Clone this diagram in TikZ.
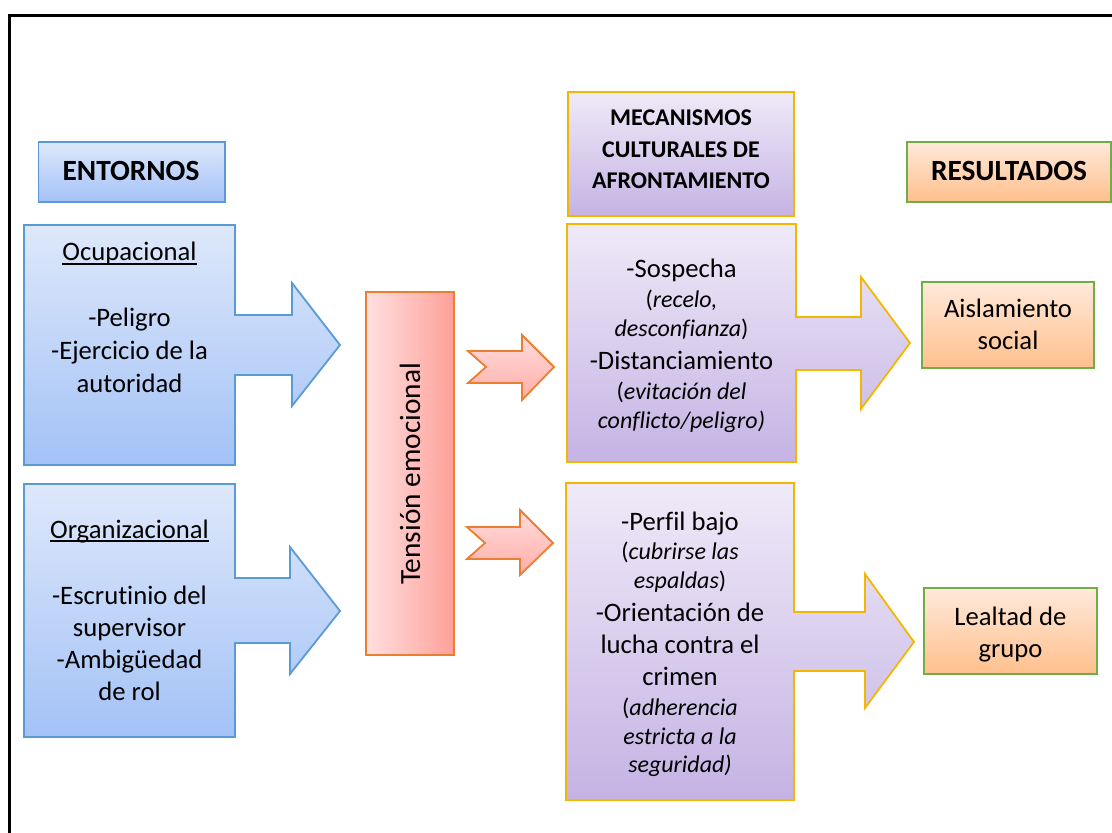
\documentclass[tikz,border=0pt]{standalone}
\usepackage{fontspec}
\setmainfont{Carlito}[Ligatures=NoCommon]
\newcommand\ulword[1]{\setbox0\hbox{#1}\rlap{\rule[-0.14em]{\wd0}{0.065em}}\box0}
\definecolor{bluetop}{HTML}{DEE8FB}
\definecolor{bluebot}{HTML}{A3C2F6}
\definecolor{blueedge}{HTML}{5B9BD5}
\definecolor{pinkleft}{HTML}{FFE0E0}
\definecolor{pinkright}{HTML}{FFA099}
\definecolor{pinktop}{HTML}{FFDCDC}
\definecolor{pinkbot}{HTML}{FFAEA8}
\definecolor{orangeedge}{HTML}{ED7D31}
\definecolor{lavtop}{HTML}{EFEAF8}
\definecolor{lavbot}{HTML}{C5B3E4}
\definecolor{goldedge}{HTML}{F2B700}
\definecolor{peachtop}{HTML}{FFE9DA}
\definecolor{peachbot}{HTML}{FFC08D}
\definecolor{greenedge}{HTML}{70AD47}
\tikzset{
  bluefill/.style={draw=blueedge, line width=0.9pt, top color=bluetop, bottom color=bluebot},
  pinkfill/.style={draw=orangeedge, line width=0.9pt, top color=pinktop, bottom color=pinkbot},
  lavfill/.style={draw=goldedge, line width=0.9pt, top color=lavtop, bottom color=lavbot},
  peachfill/.style={draw=greenedge, line width=0.9pt, top color=peachtop, bottom color=peachbot},
  txt/.style={anchor=base, inner sep=0pt, yshift=-4pt, font=\fontsize{13.33}{16}\selectfont},
  itx/.style={anchor=base, inner sep=0pt, yshift=-3.6pt, font=\fontsize{12}{14}\itshape},
  head/.style={anchor=base, inner sep=0pt, yshift=-4.4pt, font=\fontsize{14.67}{17}\bfseries},
  mhead/.style={anchor=base, inner sep=0pt, yshift=-3.6pt, font=\fontsize{12}{14}\bfseries},
}
\begin{document}
\begin{tikzpicture}[x=0.5pt, y=-0.5pt]
\useasboundingbox (0,0) rectangle (1112,833);
\clip (0,0) rectangle (1112,833);
% outer frame
\draw[line width=1.25pt, black] (9.5,850) -- (9.5,15.3) -- (1130,15.3);

% ---- environments column ----
\draw[bluefill] (38.5,142) rectangle (225,202);
\node[head] (entornos) at (131,172) {ENTORNOS};

\draw[bluefill] (24,225) -- (235,225) -- (235,315) -- (292,315) -- (292,283)
  -- (340,345) -- (292,406) -- (292,375) -- (235,375) -- (235,465) -- (24,465) -- cycle;
\node[txt] (ocu) at (129.5,253) {\ulword{Ocupacional}};
\node[txt] (ocu1) at (129.5,319) {-Peligro};
\node[txt] (ocu2) at (129.5,352) {-Ejercicio de la};
\node[txt] (ocu3) at (129.5,384.5) {autoridad};

\draw[bluefill] (24,484) -- (235,484) -- (235,578) -- (290,578) -- (290,547)
  -- (340,611) -- (290,674) -- (290,643) -- (235,643) -- (235,737) -- (24,737) -- cycle;
\node[txt] (org) at (129.5,530) {\ulword{Organizacional}};
\node[txt] (org1) at (129.5,596) {-Escrutinio del};
\node[txt] (org2) at (129.5,628) {supervisor};
\node[txt] (org3) at (129.5,660) {-Ambigüedad};
\node[txt] (org4) at (129.5,692) {de rol};

% ---- emotional strain ----
\draw[draw=orangeedge, line width=0.9pt, left color=pinkleft, right color=pinkright]
  (366,292) rectangle (454,655);
\node[rotate=90, inner sep=0pt, font=\fontsize{14.67}{17}\selectfont] (tension) at (410,474) {Tensión emocional};

\draw[pinkfill] (468,351) -- (522,351) -- (522,335) -- (554,367) -- (522,400)
  -- (522,383) -- (468,383) -- (486,367) -- cycle;
\draw[pinkfill] (467,527) -- (520,527) -- (520,510) -- (553,543) -- (520,575)
  -- (520,559) -- (467,559) -- (485,543) -- cycle;

% ---- coping mechanisms ----
\draw[lavfill] (568,92) rectangle (794,216);
\node[mhead] (mec1) at (681,118) {MECANISMOS};
\node[mhead] (mec2) at (681,150) {CULTURALES DE};
\node[mhead] (mec3) at (681,181) {AFRONTAMIENTO};

\draw[lavfill] (567,224) -- (796,224) -- (796,317) -- (861,317) -- (861,277)
  -- (910,343) -- (861,409) -- (861,370) -- (796,370) -- (796,462) -- (567,462) -- cycle;
\node[txt] (s1) at (681.5,270) {-Sospecha};
\node[itx] (s2) at (681.5,300) {\upshape(\itshape recelo,};
\node[itx] (s3) at (681.5,329) {desconfianza\upshape)};
\node[txt] (s4) at (681.5,362) {-Distanciamiento};
\node[itx] (s5) at (681.5,392) {\upshape(\itshape evitación del};
\node[itx] (s6) at (681.5,421) {conflicto/peligro)};

\draw[lavfill] (566,483) -- (794,483) -- (794,612) -- (865,612) -- (865,574)
  -- (914,642) -- (865,708) -- (865,671) -- (794,671) -- (794,800) -- (566,800) -- cycle;
\node[txt] (p1) at (680,522) {-Perfil bajo};
\node[itx] (p2) at (680,552) {\upshape(\itshape cubrirse las};
\node[itx] (p3) at (680,581) {espaldas\upshape)};
\node[txt] (p4) at (680,613) {-Orientación de};
\node[txt] (p5) at (680,645) {lucha contra el};
\node[txt] (p6) at (680,677) {crimen};
\node[itx] (p7) at (680,708) {\upshape(\itshape adherencia};
\node[itx] (p8) at (680,737) {estricta a la};
\node[itx] (p9) at (680,765) {seguridad)};

% ---- outcomes ----
\draw[peachfill] (907,142) rectangle (1111,202);
\node[head] (res) at (1009,172) {RESULTADOS};

\draw[peachfill] (922,282) rectangle (1094,368);
\node[txt] (r1a) at (1008,310) {Aislamiento};
\node[txt] (r1b) at (1008,342) {social};

\draw[peachfill] (924,588) rectangle (1097,674);
\node[txt] (r2a) at (1010.5,617) {Lealtad de};
\node[txt] (r2b) at (1010.5,649) {grupo};
\end{tikzpicture}
\end{document}
